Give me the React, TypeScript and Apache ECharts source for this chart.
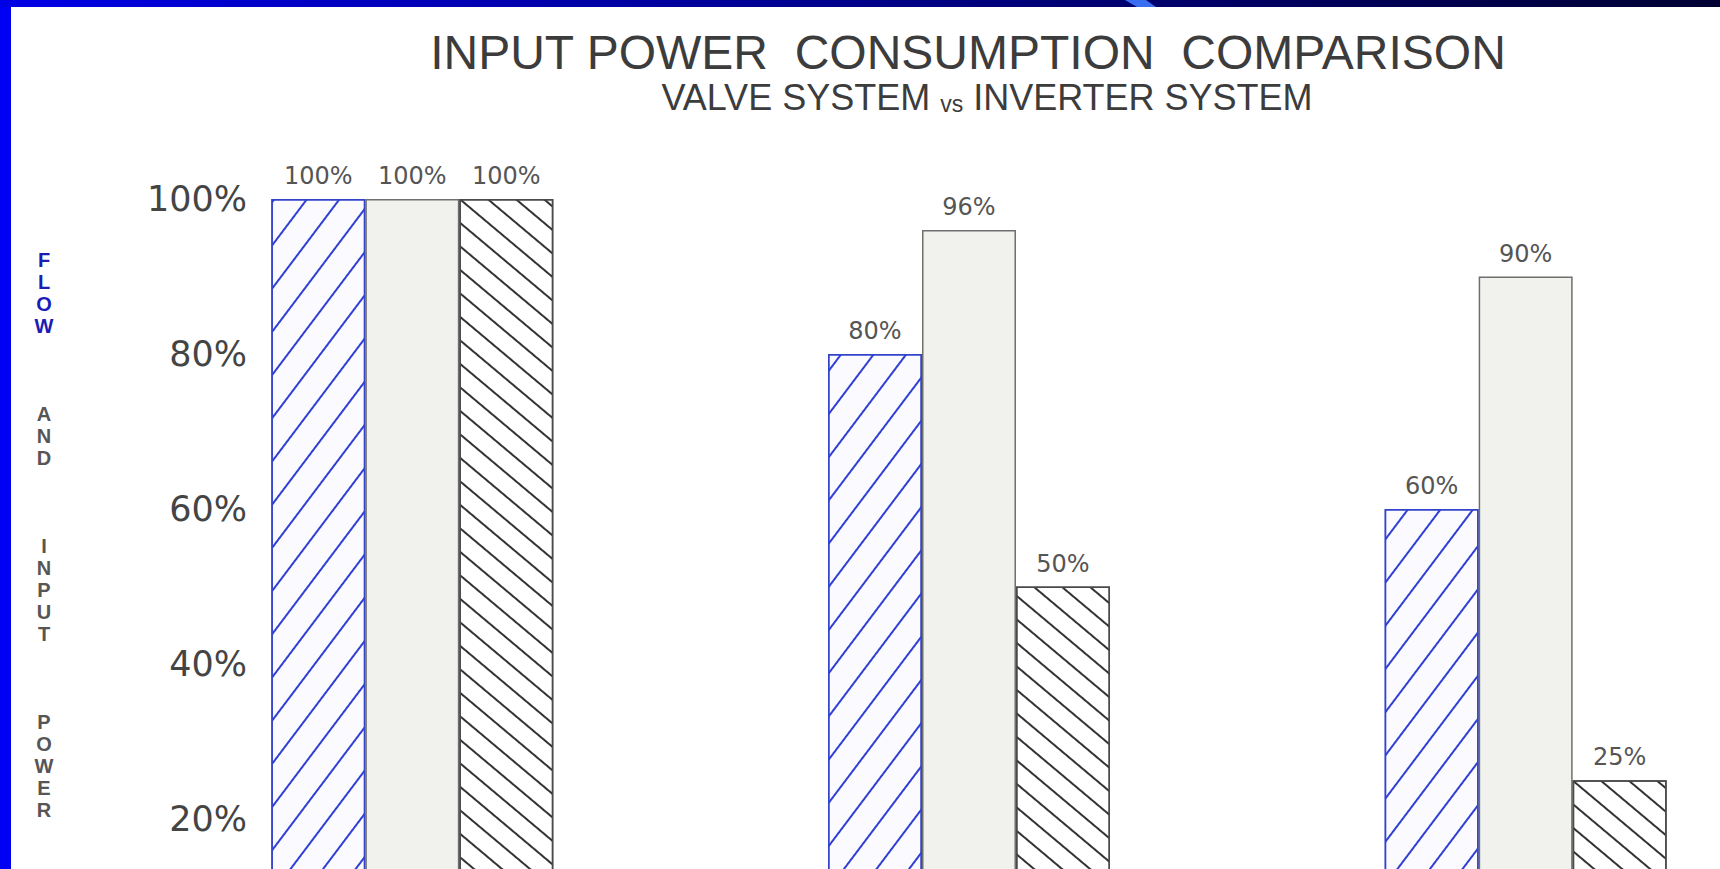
import React, { useEffect, useRef } from "react";
import * as echarts from "echarts";

// Flow level for each operating point, and the input power each drive system draws there
const categories = ["100% Flow", "80% Flow", "60% Flow"];
const flowPercent = [100, 80, 60];
const valveSystemPower = [100, 96, 90];
const inverterSystemPower = [100, 50, 25];

// Value axis ticks (percent)
const yMin = 0;
const yMax = 100;
const yStep = 20;

// Heading texts
const titleText = "INPUT POWER  CONSUMPTION  COMPARISON";
const subtitleLeft = "VALVE SYSTEM ";
const subtitleVs = "vs";
const subtitleRight = " INVERTER SYSTEM";

// Stacked letters of the vertical axis caption
const captionHighlight = "FLOW";
const captionRest = ["AND", "INPUT", "POWER"];

const stack = (w: string) => w.split("").join("\n");

export default function App() {
  const ref = useRef<HTMLDivElement>(null);

  useEffect(() => {
    document.body.style.margin = "0";
    document.body.style.overflow = "hidden";
    if (!ref.current) return;
    const chart = echarts.init(ref.current, undefined, { renderer: "svg" });

    const labelStyle = {
      show: true,
      position: "top" as const,
      distance: 11,
      formatter: "{c}%",
      fontFamily: "DejaVu Sans",
      fontSize: 24,
      color: "#555",
    };

    chart.setOption({
      animation: false,
      backgroundColor: "#ffffff",
      // the plot runs past the lower and right page edges
      grid: {
        left: 134,
        top: 199,
        width: 1670,
        height: 775,
        containLabel: false,
        outerBoundsMode: "none",
      },
      xAxis: {
        type: "category",
        data: categories,
        show: false,
      },
      yAxis: {
        type: "value",
        min: yMin,
        max: yMax,
        interval: yStep,
        axisLine: { show: false },
        axisTick: { show: false },
        splitLine: { show: false },
        axisLabel: {
          formatter: "{value}%",
          margin: -113,
          fontFamily: "DejaVu Sans",
          fontSize: 35,
          color: "#444",
          showMinLabel: false,
        },
      },
      series: [
        {
          name: "Flow",
          type: "bar",
          data: flowPercent,
          barWidth: 94,
          barGap: "0%",
          itemStyle: {
            color: "#fbfbff",
            borderColor: "#3344cc",
            borderWidth: 1.5,
            decal: {
              symbol: "rect",
              symbolSize: 1,
              color: "#2f3fd2",
              dashArrayX: [1, 0],
              dashArrayY: [1.6, 24],
              rotation: (-53 * Math.PI) / 180,
            },
          },
          label: labelStyle,
        },
        {
          name: "Valve System",
          type: "bar",
          data: valveSystemPower,
          barWidth: 94,
          barGap: "0%",
          itemStyle: {
            color: "#f1f1ee",
            borderColor: "#6f6f6f",
            borderWidth: 1.5,
          },
          label: labelStyle,
        },
        {
          name: "Inverter System",
          type: "bar",
          data: inverterSystemPower,
          barWidth: 94,
          barGap: "0%",
          itemStyle: {
            color: "#ffffff",
            borderColor: "#4a4a4a",
            borderWidth: 1.5,
            decal: {
              symbol: "rect",
              symbolSize: 1,
              color: "#333333",
              dashArrayX: [1, 0],
              dashArrayY: [1.5, 15.5],
              rotation: (40 * Math.PI) / 180,
            },
          },
          label: labelStyle,
        },
      ],
      graphic: [
        // slide frame: left strip and gradient top band
        {
          type: "rect",
          shape: { x: 0, y: 0, width: 11, height: 869 },
          style: { fill: "#0000f2" },
          z: 10,
        },
        {
          type: "rect",
          shape: { x: 0, y: 0, width: 1720, height: 7 },
          style: {
            fill: new echarts.graphic.LinearGradient(0, 0, 1, 0, [
              { offset: 0, color: "#0000e6" },
              { offset: 0.5, color: "#00008a" },
              { offset: 1, color: "#000033" },
            ]),
          },
          z: 10,
        },
        {
          type: "polygon",
          shape: { points: [[1125, 0], [1146, 0], [1156, 7], [1137, 7]] },
          style: { fill: "#3a6ef0" },
          z: 11,
        },
        // headings
        {
          type: "text",
          x: 968,
          y: 52,
          style: {
            text: titleText,
            fontFamily: "Liberation Sans",
            fontSize: 48,
            fill: "#3c3c3c",
            align: "center",
            verticalAlign: "middle",
          },
        },
        {
          type: "text",
          x: 987,
          y: 97,
          style: {
            text: `{a|${subtitleLeft}}{b|${subtitleVs}}{a|${subtitleRight}}`,
            align: "center",
            verticalAlign: "middle",
            rich: {
              a: { fontFamily: "Liberation Sans", fontSize: 36, fill: "#3c3c3c", color: "#3c3c3c" },
              b: { fontFamily: "Liberation Sans", fontSize: 23, fill: "#3c3c3c", color: "#3c3c3c", verticalAlign: "bottom", padding: [6, 0, 0, 0] },
            },
          },
        },
        // vertical axis caption, one letter per line
        {
          type: "text",
          x: 44,
          y: 249,
          style: {
            text: stack(captionHighlight),
            fontFamily: "Liberation Sans",
            fontWeight: "bold",
            fontSize: 20,
            lineHeight: 22,
            fill: "#1c1cb4",
            align: "center",
            verticalAlign: "top",
          },
        },
        {
          type: "text",
          x: 44,
          y: 403,
          style: {
            text: captionRest.map(stack).join("\n\n\n\n"),
            fontFamily: "Liberation Sans",
            fontWeight: "bold",
            fontSize: 20,
            lineHeight: 22,
            fill: "#565656",
            align: "center",
            verticalAlign: "top",
          },
        },
      ],
    });

    return () => chart.dispose();
  }, []);

  return <div ref={ref} style={{ width: 1720, height: 869 }} />;
}
